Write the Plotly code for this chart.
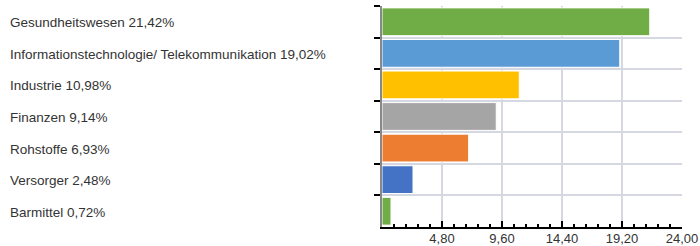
import plotly.graph_objects as go

categories = ["Gesundheitswesen", "Informationstechnologie/ Telekommunikation", "Industrie",
              "Finanzen", "Rohstoffe", "Versorger", "Barmittel"]
values = [21.42, 19.02, 10.98, 9.14, 6.93, 2.48, 0.72]
colors = ["#70ad47", "#5b9bd5", "#ffc000", "#a5a5a5", "#ed7d31", "#4472c4", "#70ad47"]
tick_vals = [4.8, 9.6, 14.4, 19.2, 24.0]
tick_text = ["4,80", "9,60", "14,40", "19,20", "24,00"]

fig = go.Figure(go.Bar(
    x=values, y=categories, orientation="h",
    marker=dict(color=colors, line=dict(color="white", width=1)),
    hoverinfo="skip",
))

for c, v in zip(categories, values):
    fig.add_annotation(
        x=-1.2467, xref="paper", y=c, yref="y", xanchor="left", yanchor="middle",
        text=f"{c} {v:.2f}%".replace(".", ","), showarrow=False, yshift=-1,
        font=dict(family="Liberation Sans, Arial", size=13.5, color="#333333"),
    )

fig.update_layout(
    width=700, height=246,
    margin=dict(l=382, r=18, t=6, b=19),
    plot_bgcolor="white", paper_bgcolor="white",
    bargap=0.12, showlegend=False,
    xaxis=dict(
        range=[0, 24], tickvals=tick_vals, ticktext=tick_text, automargin=False,
        showgrid=True, gridcolor="#d5d8e0", gridwidth=2,
        zeroline=False, showline=True, linecolor="black", linewidth=2,
        ticks="inside", ticklen=6, tickwidth=2, tickcolor="black",
        minor=dict(dtick=0.96, tick0=0, ticks="inside", ticklen=3, tickwidth=2,
                   tickcolor="black", showgrid=False),
        tickfont=dict(family="Liberation Sans, Arial", size=13, color="#333333"),
        ticklabelstandoff=-2,
        fixedrange=True,
    ),
    yaxis=dict(
        type="category", autorange="reversed", tickson="boundaries", automargin=False,
        showticklabels=False, showgrid=True, gridcolor="#d5d8e0", gridwidth=2,
        showline=True, linecolor="#888888", linewidth=2,
        ticks="outside", ticklen=6, tickwidth=2, tickcolor="black",
        fixedrange=True,
    ),
    bargroupgap=0,
)

fig.write_html("out.html", config={"displayModeBar": False},
               post_script="document.body.style.margin='0';document.body.style.overflow='hidden';")
